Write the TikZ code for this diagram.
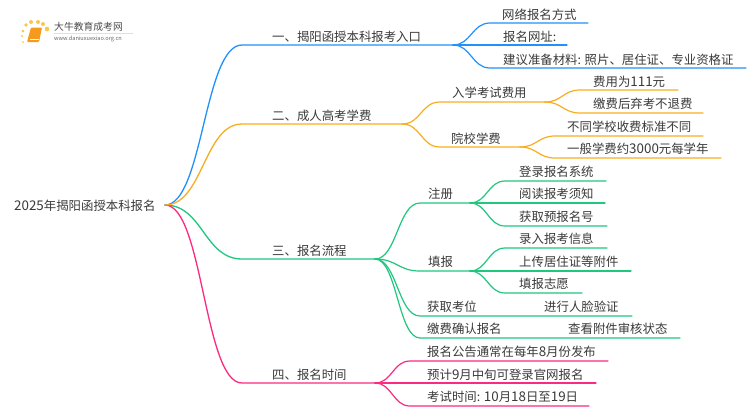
\documentclass[tikz,border=0pt]{standalone}
\usepackage{fontspec}
\setmainfont{Noto Sans CJK SC}
\newfontfamily\dgtfont[Scale=1.08]{Noto Sans CJK SC}
\newcommand{\dg}[1]{{\dgtfont #1}}
\usetikzlibrary{calc}
\definecolor{cblue}{HTML}{2291FB}
\definecolor{corange}{HTML}{F8AE1E}
\definecolor{cgreen}{HTML}{1FC77F}
\definecolor{cpink}{HTML}{FC2A80}
\definecolor{ctext}{HTML}{3A3A3A}
\definecolor{cdot}{HTML}{FBC64A}
\definecolor{cbook}{HTML}{F59A1C}
\tikzset{
  lbl/.style={anchor=base west,inner sep=0pt,font=\fontsize{12.4pt}{14pt}\selectfont,text=ctext},
  link/.style={line width=1.3pt,line cap=round},
  twig/.style={line width=1.2pt,line cap=round}
}
% \bez{colour}{style}{from}{to}{end}{ctrl}
\newcommand{\bez}[6]{\draw[#2,#1] (#3) .. controls +(#6,0) and +(-#6,0) .. (#4) -- (#5);}
\begin{document}
\begin{tikzpicture}[x=1pt,y=-1pt]
\useasboundingbox (0,0) rectangle (750,410);
\fill[white] (0,0) rectangle (750,410);

% logo
\foreach \a/\b/\r in {23/42/1,22/36/1.2,23/31/1.5,26/25/1.8,31/22/2,38/22/2,43/24/2,47/29/2.3}
  \fill[cdot] (\a,\b) circle (\r);
\fill[cbook,rounded corners=1pt] (31,27.5) -- (42,27.5) -- (39,42) -- (27,42) -- cycle;
\draw[white,line width=0.5pt] (29.5,39.5) -- (39,39.5);
\draw[black!12,line width=0.5pt] (54,33.5) -- (133,33.5);
\node[anchor=west,inner sep=0pt,font=\fontsize{9.8pt}{11pt}\selectfont,text=black!70] (logoa) at (54,27) {大牛教育成考网};
\node[anchor=west,inner sep=0pt,font=\fontsize{5.6pt}{7pt}\selectfont,text=black!60] (logob) at (54,38.5) {www.daniuxuexiao.org.cn};

% root
\node[lbl] (root) at (14,210) {\dg{2025}年揭阳函授本科报名};
\coordinate (R) at (165,205);

% level 1
\node[lbl] (n1) at (272,41.5) {一、揭阳函授本科报考入口};
\node[lbl] (n2) at (272,120) {二、成人高考学费};
\node[lbl] (n3) at (272,255.5) {三、报名流程};
\node[lbl] (n4) at (272,379.5) {四、报名时间};
\coordinate (a1) at (242,45);  \coordinate (a1e) at (453,45);
\coordinate (a2) at (242,124); \coordinate (a2e) at (402,124);
\coordinate (a3) at (242,259); \coordinate (a3e) at (375,259);
\coordinate (a4) at (242,383); \coordinate (a4e) at (375,383);
\bez{cgreen}{link}{R}{a3}{a3e}{38}
\bez{cpink}{link}{R}{a4}{a4e}{38}
\bez{cblue}{link}{R}{a1}{a1e}{38}
\bez{corange}{link}{R}{a2}{a2e}{38}

% branch 1
\node[lbl] (b11) at (502,19.5) {网络报名方式};
\node[lbl] (b12) at (503,41.5) {报名网址:};
\node[lbl] (b13) at (503,64.5) {建议准备材料: 照片、居住证、专业资格证};
\coordinate (c11) at (490,23); \coordinate (c11e) at (588,23);
\coordinate (c12e) at (567,45);
\coordinate (c13) at (490,68); \coordinate (c13e) at (746,68);
\bez{cblue}{twig}{a1e}{c11}{c11e}{18}
\draw[twig,cblue] (a1e) -- (c12e);
\bez{cblue}{twig}{a1e}{c13}{c13e}{18}

% branch 2
\node[lbl] (b21) at (452,97.5) {入学考试费用};
\node[lbl] (b22) at (451,143.5) {院校学费};
\coordinate (c21) at (440,102); \coordinate (c21e) at (545,102);
\coordinate (c22) at (440,147); \coordinate (c22e) at (520,147);
\bez{corange}{twig}{a2e}{c21}{c21e}{19}
\bez{corange}{twig}{a2e}{c22}{c22e}{19}
\node[lbl] (d211) at (593,86.5) {费用为\dg{111}元};
\node[lbl] (d212) at (593,108.5) {缴费后弃考不退费};
\node[lbl] (d221) at (567,131.5) {不同学校收费标准不同};
\node[lbl] (d222) at (567,153.5) {一般学费约\dg{3000}元每学年};
\coordinate (e211) at (580,90);  \coordinate (e211e) at (678,90);
\coordinate (e212) at (580,113); \coordinate (e212e) at (703,113);
\coordinate (e221) at (555,136); \coordinate (e221e) at (703,136);
\coordinate (e222) at (555,158); \coordinate (e222e) at (721,158);
\bez{corange}{twig}{c21e}{e211}{e211e}{17}
\bez{corange}{twig}{c21e}{e212}{e212e}{17}
\bez{corange}{twig}{c22e}{e221}{e221e}{17}
\bez{corange}{twig}{c22e}{e222}{e222e}{17}

% branch 3
\node[lbl] (b31) at (428,198.5) {注册};
\node[lbl] (b32) at (428,266.5) {填报};
\node[lbl] (b33) at (427,311.5) {获取考位};
\node[lbl] (b34) at (427,333.5) {缴费确认报名};
\node[lbl] (f33) at (544,311.5) {进行人脸验证};
\node[lbl] (f34) at (568,333.5) {查看附件审核状态};
\coordinate (c31) at (420,203); \coordinate (c31e) at (470,203);
\coordinate (c32) at (420,271); \coordinate (c32e) at (470,271);
\coordinate (c33) at (420,316); \coordinate (c33e) at (632,316);
\coordinate (c34) at (420,338); \coordinate (c34e) at (680,338);
\bez{cgreen}{twig}{a3e}{c31}{c31e}{22}
\bez{cgreen}{twig}{a3e}{c32}{c32e}{22}
\bez{cgreen}{twig}{a3e}{c33}{c33e}{22}
\bez{cgreen}{twig}{a3e}{c34}{c34e}{22}
\node[lbl] (d311) at (519,176.5) {登录报名系统};
\node[lbl] (d312) at (519,198.5) {阅读报考须知};
\node[lbl] (d313) at (519,221.5) {获取预报名号};
\node[lbl] (d321) at (519,243.5) {录入报考信息};
\node[lbl] (d322) at (519,266.5) {上传居住证等附件};
\node[lbl] (d323) at (519,288.5) {填报志愿};
\coordinate (e311) at (505,181); \coordinate (e311e) at (606,181);
\coordinate (e312e) at (605,203);
\coordinate (e313) at (505,226); \coordinate (e313e) at (607,226);
\coordinate (e321) at (505,248); \coordinate (e321e) at (607,248);
\coordinate (e322e) at (631,271);
\coordinate (e323) at (505,293); \coordinate (e323e) at (582,293);
\bez{cgreen}{twig}{c31e}{e311}{e311e}{17}
\draw[twig,cgreen] (c31e) -- (e312e);
\bez{cgreen}{twig}{c31e}{e313}{e313e}{17}
\bez{cgreen}{twig}{c32e}{e321}{e321e}{17}
\draw[twig,cgreen] (c32e) -- (e322e);
\bez{cgreen}{twig}{c32e}{e323}{e323e}{17}

% branch 4
\node[lbl] (b41) at (427,356.5) {报名公告通常在每年\dg{8}月份发布};
\node[lbl] (b42) at (427,379.5) {预计\dg{9}月中旬可登录官网报名};
\node[lbl] (b43) at (427,401.5) {考试时间: \dg{10}月\dg{18}日至\dg{19}日};
\coordinate (c41) at (410,361); \coordinate (c41e) at (608,361);
\coordinate (c42e) at (596,383);
\coordinate (c43) at (410,406); \coordinate (c43e) at (589,406);
\bez{cpink}{twig}{a4e}{c41}{c41e}{17}
\draw[twig,cpink] (a4e) -- (c42e);
\bez{cpink}{twig}{a4e}{c43}{c43e}{17}
\end{tikzpicture}
\end{document}
